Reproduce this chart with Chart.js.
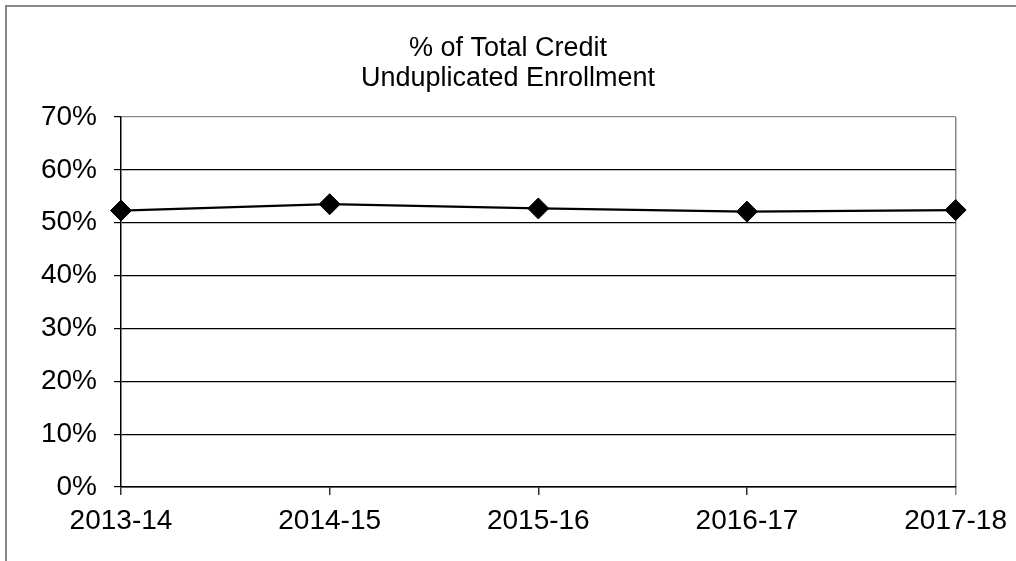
<!DOCTYPE html>
<html>
<head>
<meta charset="utf-8">
<script src="https://cdn.jsdelivr.net/npm/chart.js@4.4.1/dist/chart.umd.min.js"></script>
<style>
  html, body { margin: 0; padding: 0; background: #fff; }
  #c { display: block; }
</style>
</head>
<body>
<canvas id="c" width="1016" height="561"></canvas>
<script>
const titleLines = ["% of Total Credit", "Unduplicated Enrollment"];
const categories = ["2013-14", "2014-15", "2015-16", "2016-17", "2017-18"];
const percentValues = [52.3, 53.5, 52.7, 52.1, 52.4];
const yTickValues = [0, 10, 20, 30, 40, 50, 60, 70];

const FONT = "'Liberation Sans', Arial, sans-serif";
const GRAY = '#878787';

const outerBorder = {
  id: 'outerBorder',
  beforeDraw(chart) {
    const ctx = chart.ctx;
    ctx.save();
    ctx.fillStyle = '#fff';
    ctx.fillRect(0, 0, chart.width, chart.height);
    ctx.strokeStyle = GRAY;
    ctx.lineWidth = 2;
    ctx.strokeRect(6, 6, chart.width + 20, chart.height + 20);
    ctx.restore();
  }
};

new Chart(document.getElementById('c'), {
  type: 'line',
  data: {
    labels: categories,
    datasets: [{
      data: percentValues,
      borderColor: '#000',
      borderWidth: 2.2,
      backgroundColor: '#000',
      pointStyle: 'rectRot',
      pointRadius: 10.5,
      pointHoverRadius: 10.5,
      pointBackgroundColor: '#000',
      pointBorderColor: '#000',
      pointBorderWidth: 1,
      tension: 0,
      clip: false
    }]
  },
  options: {
    responsive: false,
    animation: false,
    devicePixelRatio: 1,
    layout: { padding: 0 },
    plugins: {
      legend: { display: false },
      tooltip: { enabled: false },
      title: {
        display: true,
        text: titleLines,
        color: '#000',
        font: { family: FONT, size: 27, weight: 'normal', lineHeight: 30 / 27 },
        padding: { top: 34, bottom: 23 }
      }
    },
    scales: {
      x: {
        offset: false,
        grid: {
          drawOnChartArea: true,
          color: (c) => c.index === categories.length - 1 ? GRAY : 'rgba(0,0,0,0)',
          tickColor: (c) => c.index === categories.length - 1 ? GRAY : '#333',
          tickLength: 8,
          lineWidth: 1.5
        },
        border: { display: true, color: '#000', width: 1.5 },
        ticks: {
          color: '#000',
          font: { family: FONT, size: 28 },
          padding: 9,
          maxRotation: 0,
          autoSkip: false
        },
        afterFit: (s) => { s.height = 74; }
      },
      y: {
        min: 0,
        max: 70,
        afterBuildTicks: (s) => { s.ticks = yTickValues.map(v => ({ value: v })); },
        grid: {
          color: (c) => c.tick && c.tick.value === 70 ? GRAY : '#000',
          tickColor: '#000',
          tickLength: 7,
          lineWidth: 1.2
        },
        border: { display: true, color: '#000', width: 1.5 },
        ticks: {
          color: '#000',
          font: { family: FONT, size: 28 },
          padding: 17,
          callback: (v) => v + '%'
        },
        afterFit: (s) => { s.width = 121; }
      },
      yRightSpace: {
        type: 'linear',
        position: 'right',
        display: true,
        grid: { display: false, drawTicks: false },
        border: { display: false },
        ticks: { display: false },
        afterFit: (s) => { s.width = 59; }
      }
    }
  },
  plugins: [outerBorder]
});
</script>
</body>
</html>
